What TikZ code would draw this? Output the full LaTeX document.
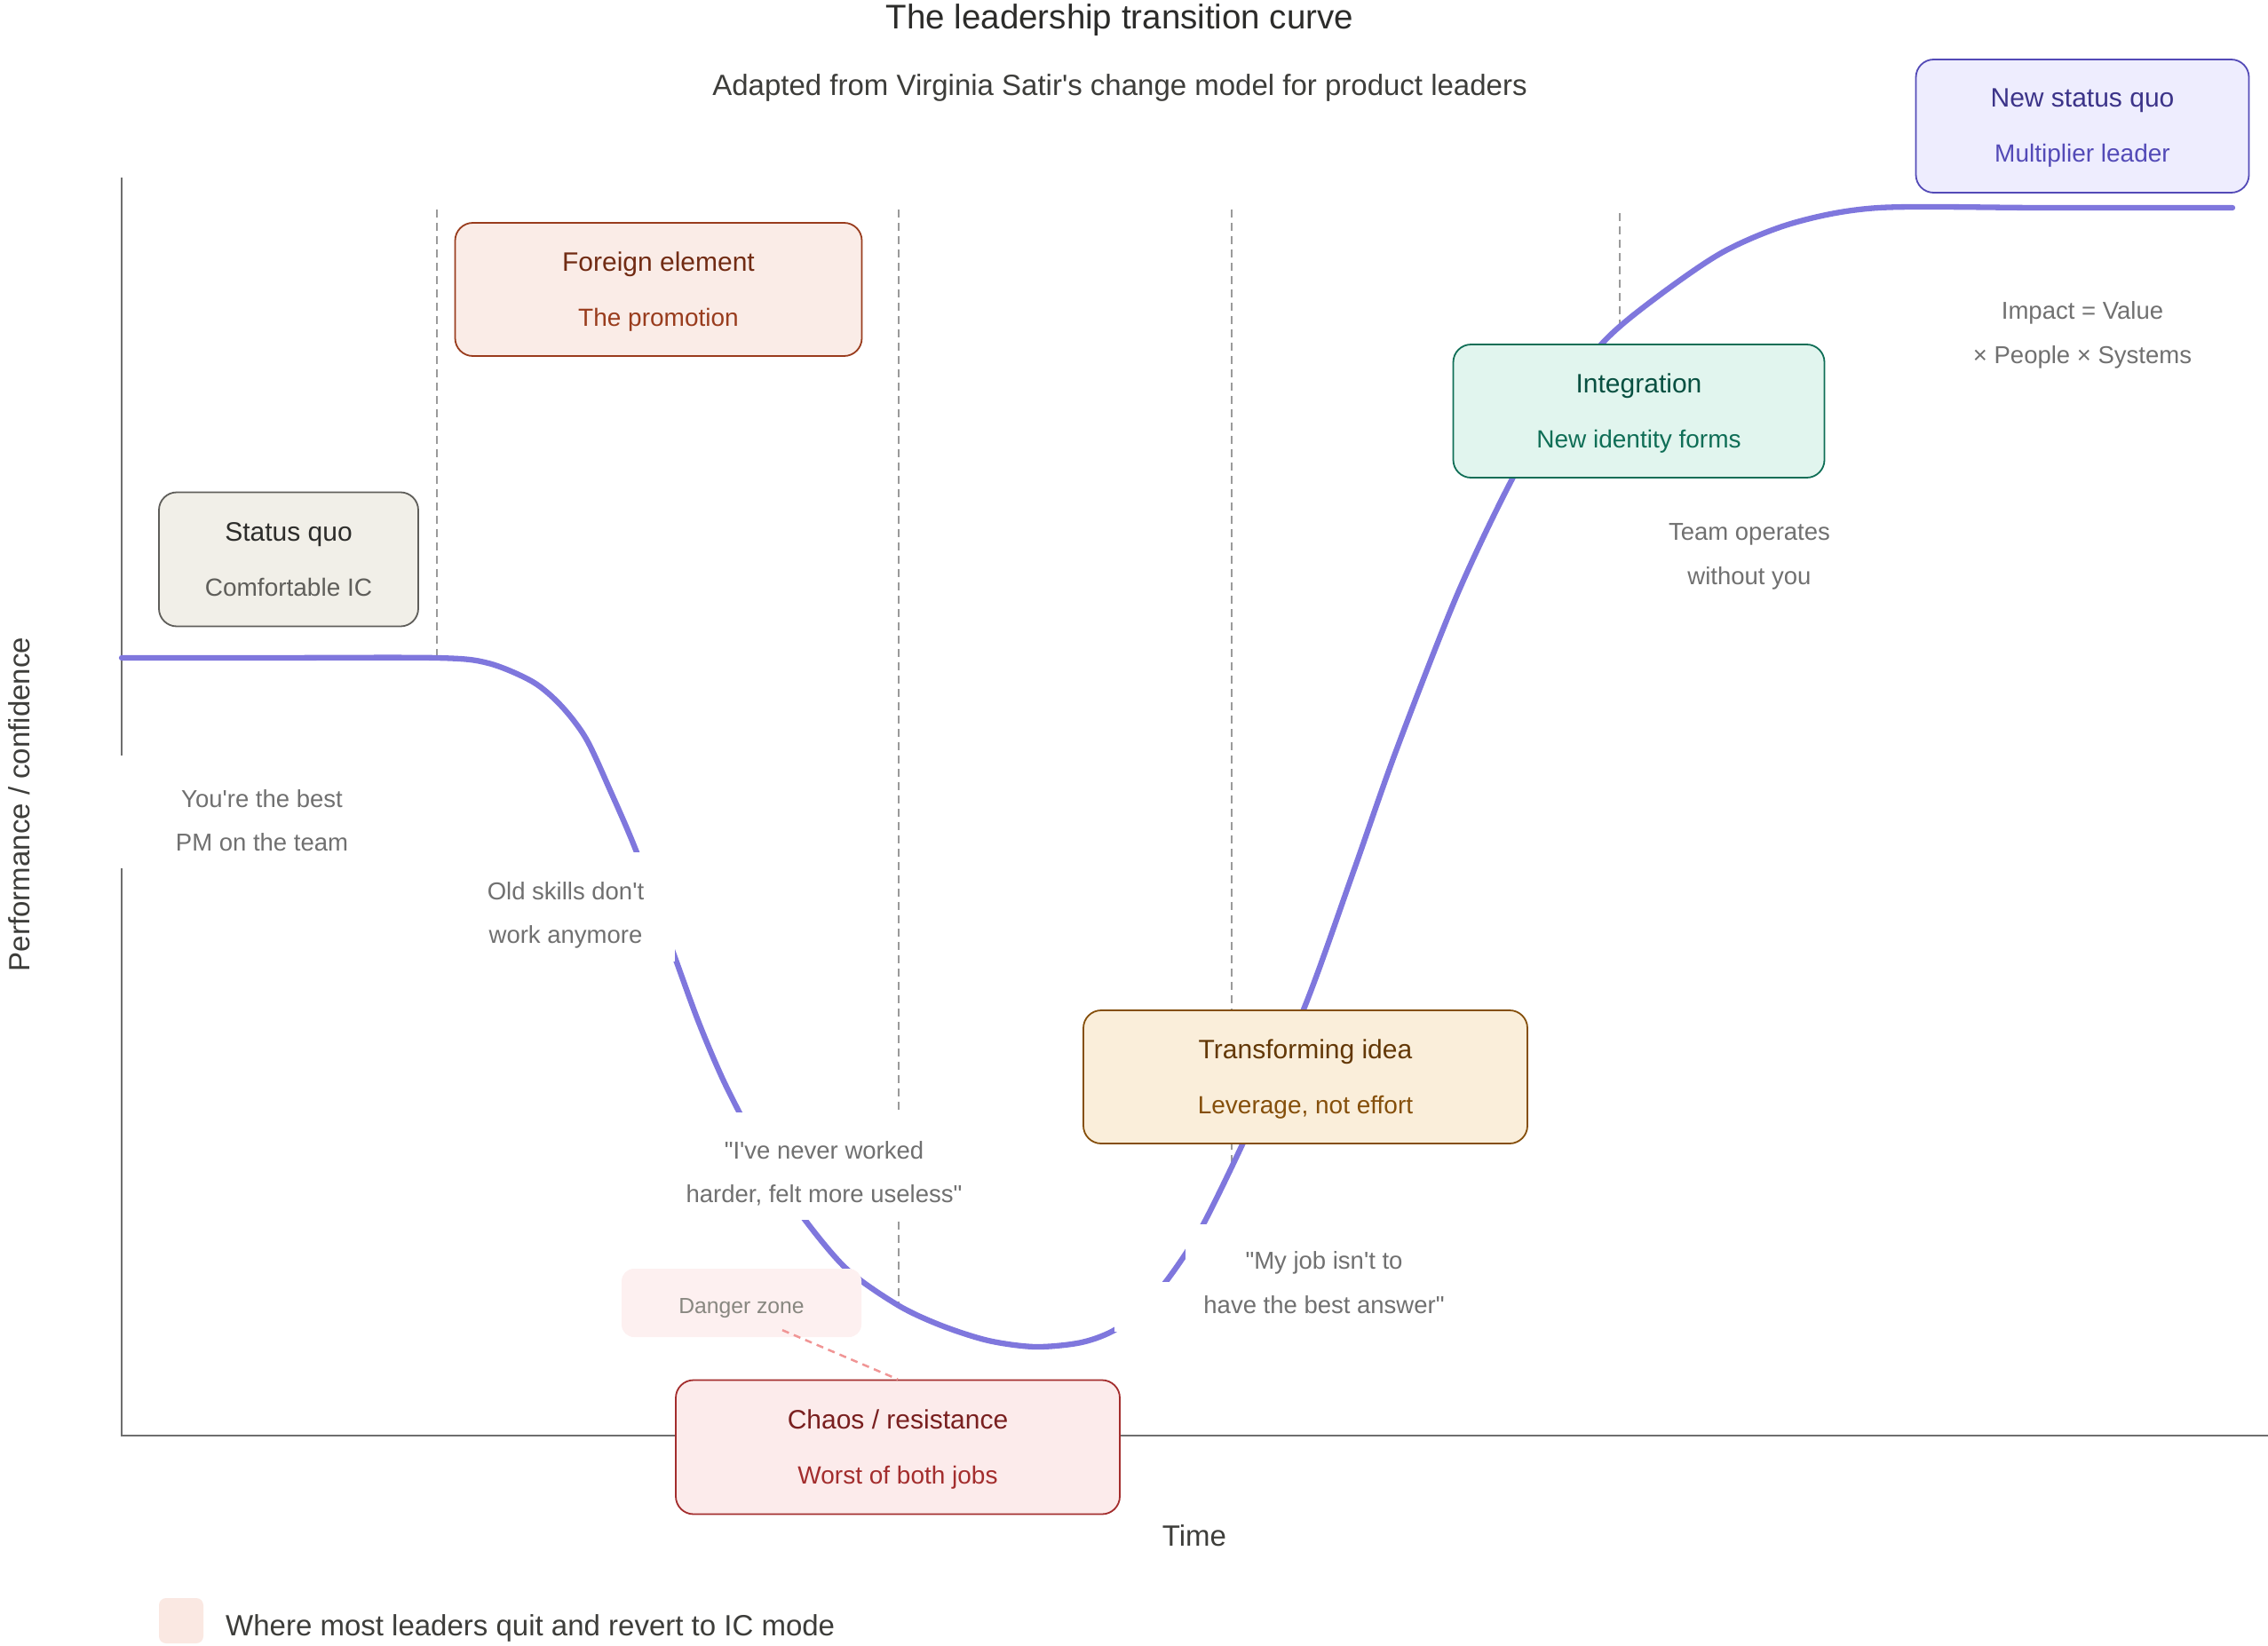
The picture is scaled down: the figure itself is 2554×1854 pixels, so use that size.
\documentclass[tikz,border=0pt]{standalone}
\usepackage{fontspec}
\setmainfont{Liberation Sans}[Ligatures=TeXOff]
\definecolor{curvec}{HTML}{7F77DD}
\definecolor{axisc}{HTML}{6E6E6E}
\definecolor{dashc}{HTML}{9A9A9A}
\definecolor{lblc}{HTML}{707070}
\definecolor{darkc}{HTML}{2C2C2A}
\definecolor{midc}{HTML}{3D3D3A}
\definecolor{sqfill}{HTML}{F1EFE8}\definecolor{sqdraw}{HTML}{5F5E5A}\definecolor{sqt}{HTML}{2C2C2A}
\definecolor{fefill}{HTML}{FAECE7}\definecolor{fedraw}{HTML}{993C1D}\definecolor{fet}{HTML}{712B13}
\definecolor{chfill}{HTML}{FCEBEB}\definecolor{chdraw}{HTML}{A32D2D}\definecolor{cht}{HTML}{791F1F}
\definecolor{tifill}{HTML}{FAEEDA}\definecolor{tidraw}{HTML}{854F0B}\definecolor{tit}{HTML}{633806}
\definecolor{infill}{HTML}{E1F5EE}\definecolor{indraw}{HTML}{0F6E56}\definecolor{int}{HTML}{085041}
\definecolor{nsfill}{HTML}{EEEDFE}\definecolor{nsdraw}{HTML}{534AB7}\definecolor{nst}{HTML}{3C3489}
\definecolor{dzfill}{HTML}{FDF0F0}\definecolor{dzline}{HTML}{F09595}\definecolor{dztext}{HTML}{888780}
\definecolor{legfill}{HTML}{FAE8E2}
\newcommand{\ap}{\textquotesingle}
\begin{document}
\begin{tikzpicture}[x=1pt,y=-1pt,
  stagebox/.style={rectangle, rounded corners=20pt, line width=1.8pt, inner sep=0pt},
  stitle/.style={anchor=base, inner sep=0pt, font=\fontsize{30}{36}\selectfont},
  ssub/.style={anchor=base, inner sep=0pt, font=\fontsize{28}{34}\selectfont},
  lbl/.style={anchor=base, inner sep=0pt, text=lblc, font=\fontsize{27.5}{33}\selectfont},
  whitebg/.style={rectangle, fill=white, draw=none, inner sep=0pt},
  stagedash/.style={draw=dashc, line width=1.5pt, dash pattern=on 9pt off 6pt},
  curveline/.style={draw=curvec, line width=6.3pt, line cap=round, line join=round},
  axisline/.style={draw=axisc, line width=1.8pt}
]
\useasboundingbox (0,0) rectangle (2554,1854);

% axes
\coordinate (yTop) at (137,200);
\coordinate (orig) at (137,1617);
\coordinate (xEnd) at (2554,1617);
\draw[axisline] (yTop) -- (orig) -- (xEnd);

% stage boundary lines
\draw[stagedash] (492,236) -- (492,741);
\draw[stagedash] (1012,236) -- (1012,1470);
\draw[stagedash] (1387,236) -- (1387,1318);
\draw[stagedash] (1824,240) -- (1824,368);

% transition curve
\draw[curveline] plot[smooth, tension=0.5] coordinates {
 (137,741) (300,741) (492,741) (550,747) (600,768) (632,795) (660,832) (687,890)
 (717,960) (757,1070) (787,1152) (817,1222) (858,1300) (899,1364)
 (952,1428) (1011,1470) (1060,1493) (1113,1510) (1166,1517) (1218,1512) (1257,1497)
 (1295,1465) (1325,1427) (1355,1379) (1400,1287) (1468,1137) (1524,982) (1572,846)
 (1640,672) (1700,545) (1750,460) (1804,387) (1860,339) (1940,284)
 (2020,251) (2116,234) (2300,234) (2514,234)};

% label backgrounds
\node[whitebg, minimum width=336pt, minimum height=127pt] (m1) at (295,914.5) {};
\node[whitebg, minimum width=246pt, minimum height=123pt] (m2) at (637,1021.5) {};
\node[whitebg, minimum width=366pt, minimum height=121pt] (m3) at (928,1313.5) {};
\node[whitebg, minimum width=310pt, minimum height=65pt] (m4a) at (1490,1411.5) {};
\node[whitebg, minimum width=470pt, minimum height=56pt] (m4b) at (1490,1472) {};

% stage boxes
\node[stagebox, fill=sqfill, draw=sqdraw, minimum width=292pt, minimum height=151pt] (sq) at (325,630) {};
\node[stitle, text=sqt] (sqT) at ([yshift=21pt]sq.center) {Status quo};
\node[ssub, text=sqdraw] (sqS) at ([yshift=-41pt]sq.center) {Comfortable IC};

\node[stagebox, fill=fefill, draw=fedraw, minimum width=458pt, minimum height=150pt] (fe) at (741.5,326) {};
\node[stitle, text=fet] (feT) at ([yshift=21pt]fe.center) {Foreign element};
\node[ssub, text=fedraw] (feS) at ([yshift=-41pt]fe.center) {The promotion};

\node[stagebox, fill=chfill, draw=chdraw, minimum width=500pt, minimum height=151pt] (ch) at (1011,1630) {};
\node[stitle, text=cht] (chT) at ([yshift=21pt]ch.center) {Chaos / resistance};
\node[ssub, text=chdraw] (chS) at ([yshift=-41pt]ch.center) {Worst of both jobs};

\node[stagebox, fill=tifill, draw=tidraw, minimum width=500pt, minimum height=150pt] (ti) at (1470,1213) {};
\node[stitle, text=tit] (tiT) at ([yshift=21pt]ti.center) {Transforming idea};
\node[ssub, text=tidraw] (tiS) at ([yshift=-41pt]ti.center) {Leverage, not effort};

\node[stagebox, fill=infill, draw=indraw, minimum width=418pt, minimum height=150pt] (ig) at (1845.5,463) {};
\node[stitle, text=int] (igT) at ([yshift=21pt]ig.center) {Integration};
\node[ssub, text=indraw] (igS) at ([yshift=-41pt]ig.center) {New identity forms};

\node[stagebox, fill=nsfill, draw=nsdraw, minimum width=375pt, minimum height=150pt] (ns) at (2345,142) {};
\node[stitle, text=nst] (nsT) at ([yshift=21pt]ns.center) {New status quo};
\node[ssub, text=nsdraw] (nsS) at ([yshift=-41pt]ns.center) {Multiplier leader};

% danger zone
\node[rectangle, rounded corners=14pt, fill=dzfill, draw=none, minimum width=270pt, minimum height=77pt, inner sep=0pt] (dz) at (835,1467.5) {};
\node[anchor=base, inner sep=0pt, text=dztext, font=\fontsize{24.7}{30}\selectfont] (dzT) at (835,1479) {Danger zone};
\draw[draw=dzline, line width=2.5pt, dash pattern=on 8pt off 6pt] ([xshift=46pt,yshift=8pt]dz.south) -- (ch.north);

% annotations
\node[lbl] (l1a) at (295,909) {You\ap re the best};
\node[lbl] (l1b) at (295,958) {PM on the team};
\node[lbl] (l2a) at (637,1013) {Old skills don\ap t};
\node[lbl] (l2b) at (637,1062) {work anymore};
\node[lbl] (l3a) at (928,1305) {"I\ap ve never worked};
\node[lbl] (l3b) at (928,1354) {harder, felt more useless"};
\node[lbl] (l4a) at (1491,1429) {"My job isn\ap t to};
\node[lbl] (l4b) at (1491,1479) {have the best answer"};
\node[lbl] (l5a) at (1970,608) {Team operates};
\node[lbl] (l5b) at (1970,658) {without you};
\node[lbl] (l6a) at (2345,359) {Impact = Value};
\node[lbl] (l6b) at (2345,409) {× People × Systems};

% titles and axis labels
\node[anchor=base, inner sep=0pt, text=darkc, font=\fontsize{38.5}{46}\selectfont] (title) at (1261,33) {The leadership transition curve};
\node[anchor=base, inner sep=0pt, text=midc, font=\fontsize{33}{40}\selectfont] (subtitle) at (1261,108) {Adapted from Virginia Satir\ap s change model for product leaders};
\node[anchor=base, inner sep=0pt, text=midc, font=\fontsize{33}{40}\selectfont] (xlab) at (1345,1741) {Time};
\node[anchor=base, inner sep=0pt, rotate=90, text=midc, font=\fontsize{33}{40}\selectfont] (ylab) at (33,906) {Performance / confidence};

% legend
\node[rectangle, rounded corners=8pt, fill=legfill, draw=none, minimum width=50pt, minimum height=51pt, inner sep=0pt] (legbox) at (204,1825.5) {};
\node[anchor=base west, inner sep=0pt, text=midc, font=\fontsize{33}{40}\selectfont] (legtxt) at (254,1842) {Where most leaders quit and revert to IC mode};
\end{tikzpicture}
\end{document}
